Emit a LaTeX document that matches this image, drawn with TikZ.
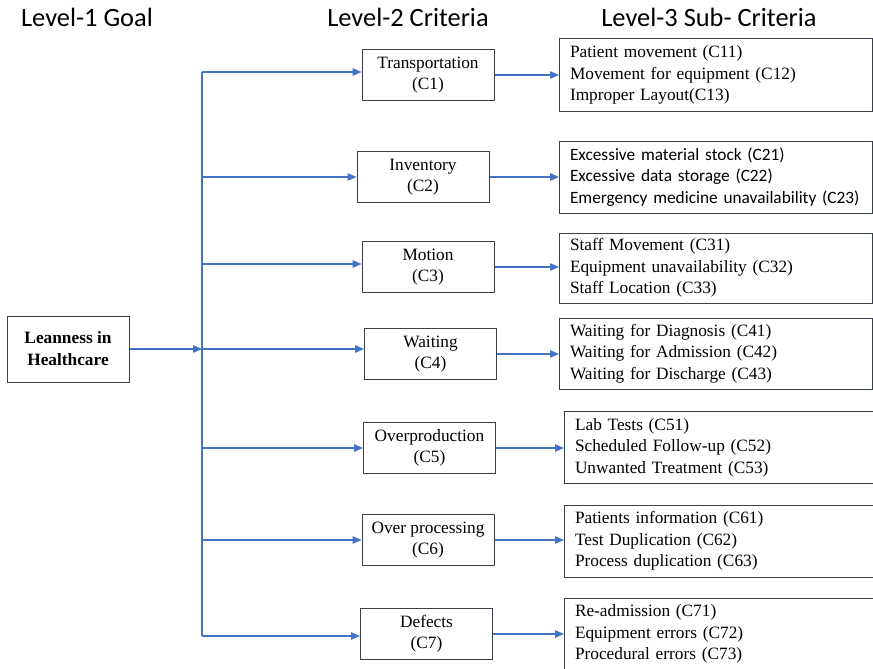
\documentclass[tikz,border=0pt]{standalone}
\usepackage{fontspec}
\setmainfont{Liberation Serif}
\newfontfamily\calfont{Carlito}
\usetikzlibrary{arrows.meta,positioning}
\definecolor{linkblue}{HTML}{4472C4}
\definecolor{boxline}{HTML}{3A3F4A}

\tikzset{
  head/.style={font=\calfont\fontsize{26.4}{30}\selectfont, inner sep=0pt},
  goalbox/.style={draw=boxline, line width=1pt, minimum width=122pt, minimum height=66pt,
    align=center, inner sep=0pt, font=\bfseries\fontsize{17.3}{22}\selectfont},
  critbox/.style={draw=boxline, line width=1pt, minimum width=132pt, minimum height=51pt,
    align=center, inner sep=0pt, font=\fontsize{17.3}{21}\selectfont},
  subbox/.style={draw=boxline, line width=1pt, anchor=west, minimum height=72pt,
    text width=292pt, inner xsep=10.5pt, inner ysep=0pt, align=left,
    font=\fontsize{17.3}{21.5}\selectfont},
  link/.style={draw=linkblue, line width=1.3pt, -{Triangle[length=9pt,width=7.5pt]}},
  trunk/.style={draw=linkblue, line width=1.3pt}
}

\begin{document}
\begin{tikzpicture}[x=1pt, y=-1pt]
   \useasboundingbox (0,0) rectangle (873,669);

   %headers
   \node[head] (h1) at (87,17) {Level-1 Goal};
   \node[head] (h2) at (408,17) {Level-2 Criteria};
   \node[head] (h3) at (709,17) {Level-3 Sub- Criteria};

   %goal
   \node[goalbox] (goal) at (68,349) {Leanness in\\Healthcare};

   %criteria
   \node[critbox] (c1) at (428,75) {Transportation\\(C1)};
   \node[critbox] (c2) at (423,177) {Inventory\\(C2)};
   \node[critbox] (c3) at (428,267) {Motion\\(C3)};
   \node[critbox] (c4) at (430.5,354) {Waiting\\(C4)};
   \node[critbox] (c5) at (429.5,448) {Overproduction\\(C5)};
   \node[critbox] (c6) at (428,540) {Over processing\\(C6)};
   \node[critbox] (c7) at (426.5,634) {Defects\\(C7)};

   %sub criteria
   \node[subbox] (s1) at (559,75) {Patient movement (C11)\\Movement for equipment (C12)\\Improper Layout(C13)};
   \node[subbox, font=\calfont\fontsize{17.3}{21.5}\selectfont] (s2) at (559,177)
        {Excessive material stock (C21)\\Excessive data storage (C22)\\Emergency medicine unavailability (C23)};
   \node[subbox, minimum height=70pt] (s3) at (559,268) {Staff Movement (C31)\\Equipment unavailability (C32)\\Staff Location (C33)};
   \node[subbox, minimum height=71pt] (s4) at (559,353.5) {Waiting for Diagnosis (C41)\\Waiting for Admission (C42)\\Waiting for Discharge (C43)};
   \node[subbox, text width=288pt] (s5) at (564,447.5) {Lab Tests (C51)\\Scheduled Follow-up (C52)\\Unwanted Treatment (C53)};
   \node[subbox, text width=288pt] (s6) at (564,541) {Patients information (C61)\\Test Duplication (C62)\\Process duplication (C63)};
   \node[subbox, text width=288pt] (s7) at (564,634) {Re-admission (C71)\\Equipment errors (C72)\\Procedural errors (C73)};

   %trunk points
   \coordinate (t1) at (202,72);
   \coordinate (t2) at (202,177);
   \coordinate (t3) at (202,264);
   \coordinate (t4) at (202,349);
   \coordinate (t5) at (202,448);
   \coordinate (t6) at (202,540);
   \coordinate (t7) at (202,636);

   \path[trunk] (t1) -- (t7);

  \path[every edge/.style={link}]
    (goal.east) edge (t4)
    %trunk to criteria
    (t1) edge (t1 -| c1.west)
    (t2) edge (t2 -| c2.west)
    (t3) edge (t3 -| c3.west)
    (t4) edge (t4 -| c4.west)
    (t5) edge (t5 -| c5.west)
    (t6) edge (t6 -| c6.west)
    (t7) edge (t7 -| c7.west)
    %criteria to sub criteria
    (c1.east) edge (c1.east -| s1.west)
    (c2.east) edge (c2.east -| s2.west)
    (c3.east) edge (c3.east -| s3.west)
    (c4.east) edge (c4.east -| s4.west)
    (c5.east) edge (c5.east -| s5.west)
    (c6.east) edge (c6.east -| s6.west)
    (c7.east) edge (c7.east -| s7.west);
\end{tikzpicture}
\end{document}
